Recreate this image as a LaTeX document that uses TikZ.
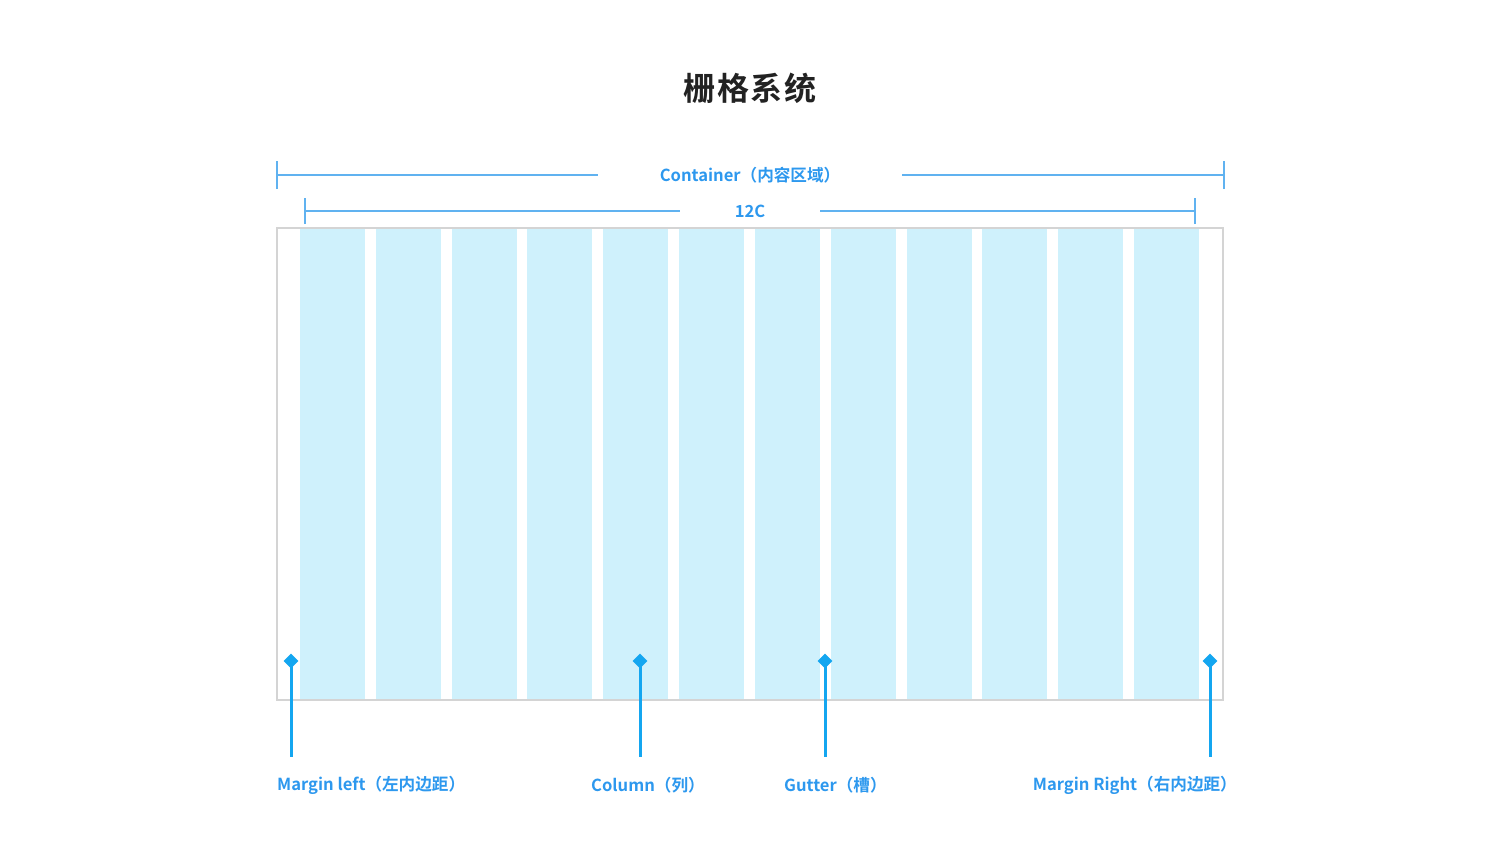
\documentclass[tikz,border=0pt]{standalone}
\usepackage{fontspec}
\setmainfont{Noto Sans CJK SC}[BoldFont={Noto Sans CJK SC Bold}]
\usetikzlibrary{positioning,shapes.geometric}
\definecolor{textblue}{RGB}{45,152,238}
\definecolor{dimblue}{RGB}{96,178,240}
\definecolor{markblue}{RGB}{20,166,240}
\definecolor{colfill}{RGB}{207,241,252}
\definecolor{frame}{RGB}{212,212,212}
\definecolor{titlegray}{RGB}{34,34,34}
\tikzset{
    col box/.style={fill=colfill, draw=none},
    frame box/.style={draw=frame, line width=1.3pt},
    dim line/.style={draw=dimblue, line width=1.3pt},
    dim label/.style={text=textblue, font=\fontsize{16.6}{20}\selectfont\bfseries, inner ysep=0pt},
    tag/.style={text=textblue, font=\fontsize{16.6}{20}\selectfont\bfseries, inner sep=0pt},
    mark dot/.style={diamond, fill=markblue, inner sep=0pt, minimum size=15pt},
    mark line/.style={draw=markblue, line width=3pt},
    title/.style={text=titlegray, font=\fontsize{32}{36}\selectfont\bfseries}
}
\begin{document}
\begin{tikzpicture}[x=1pt, y=-1pt]
    \useasboundingbox (0,0) rectangle (1500,843);
    % title
    \node[title] (head) at (750,88) {栅\hspace{1.5pt}格\hspace{1.5pt}系\hspace{1.5pt}统};
    % columns
    \foreach \i in {0,...,11}{
        \fill[col box] ({300+75.82*\i},229) rectangle ++(65,471);
    }
    \draw[frame box] (277,228) rectangle (1223,700);
    % container width
    \node[dim label, inner xsep=62pt] (cont) at (750,175) {Container（内容区域）};
    \coordinate (contL) at (277,175);
    \coordinate (contR) at (1224,175);
    \draw[dim line] (contL) -- (cont.west);
    \draw[dim line] (cont.east) -- (contR);
    \draw[dim line] ([yshift=-14pt]contL) -- ([yshift=14pt]contL);
    \draw[dim line] ([yshift=-14pt]contR) -- ([yshift=14pt]contR);
    % 12 columns width
    \node[dim label, inner xsep=55pt] (cols) at (750,211) {12C};
    \coordinate (colsL) at (305,211);
    \coordinate (colsR) at (1195,211);
    \draw[dim line] (colsL) -- (cols.west);
    \draw[dim line] (cols.east) -- (colsR);
    \draw[dim line] ([yshift=-13pt]colsL) -- ([yshift=13pt]colsL);
    \draw[dim line] ([yshift=-13pt]colsR) -- ([yshift=13pt]colsR);
    % markers
    \foreach \name/\x in {ml/291, col/640, gut/825, mr/1210}{
        \node[mark dot] (\name) at (\x,661) {};
        \coordinate (\name End) at (\x,757);
        \draw[mark line] (\name.center) -- (\name End);
    }
    % labels
    \node[tag, anchor=west] (mlTag) at (277,785) {Margin left（左内边距）};
    \node[tag, anchor=west] (colTag) at (591,785) {Column（列）};
    \node[tag, anchor=west] (gutTag) at (784,785) {Gutter（槽）};
    \node[tag, anchor=east] (mrTag) at (1237,785) {Margin Right（右内边距）};
\end{tikzpicture}
\end{document}
